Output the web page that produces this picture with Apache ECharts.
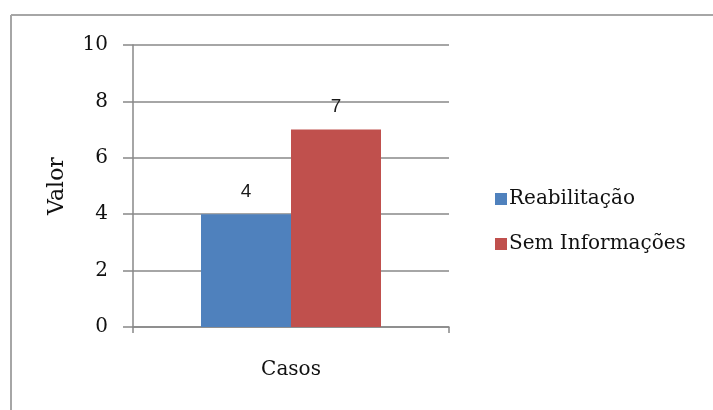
<!DOCTYPE html>
<html>
<head>
<meta charset="utf-8">
<script src="https://cdn.jsdelivr.net/npm/echarts@6/dist/echarts.min.js"></script>
<style>
  html, body { margin: 0; padding: 0; background: #fff; }
  #chart { width: 713px; height: 410px; }
</style>
</head>
<body>
<div id="chart"></div>
<script>
// Chart data
const categories = ['Casos'];
const seriesNames = ['Reabilitação', 'Sem Informações'];
const reabilitacao = [4];
const semInformacoes = [7];
const yTicks = { min: 0, max: 10, interval: 2 };

const serif = '"DejaVu Serif", "Liberation Serif", serif';
const sans = '"Liberation Sans", Arial, sans-serif';
const gridColor = '#888888';

const chart = echarts.init(document.getElementById('chart'), null, { renderer: 'canvas' });

const labelStyle = {
  show: true,
  position: 'top',
  distance: 13,
  fontFamily: sans,
  fontSize: 19,
  color: '#1a1a1a'
};

chart.setOption({
  animation: false,
  backgroundColor: '#fff',
  graphic: [
    // outer frame: top and left edges
    { type: 'line', shape: { x1: 11, y1: 15, x2: 713, y2: 15 }, style: { stroke: '#a6a6a6', lineWidth: 2 } },
    { type: 'line', shape: { x1: 11, y1: 15, x2: 11, y2: 410 }, style: { stroke: '#a6a6a6', lineWidth: 2 } }
  ],
  grid: { left: 133, right: 264, top: 45, bottom: 83 },
  legend: {
    orient: 'vertical',
    left: 490,
    top: 184,
    itemWidth: 12,
    itemHeight: 12,
    itemGap: 25,
    icon: 'rect',
    textStyle: { fontFamily: serif, fontSize: 20, color: '#111', padding: [0, 0, 0, -3] },
    data: seriesNames
  },
  xAxis: {
    type: 'category',
    data: categories,
    axisLine: { lineStyle: { color: gridColor, width: 1.5 } },
    axisTick: { show: true, length: 6, lineStyle: { color: gridColor, width: 1.5 } },
    axisLabel: { margin: 33, fontFamily: serif, fontSize: 20, color: '#111' }
  },
  yAxis: {
    type: 'value',
    min: yTicks.min,
    max: yTicks.max,
    interval: yTicks.interval,
    name: 'Valor',
    nameLocation: 'middle',
    nameGap: 65,
    nameRotate: 90,
    nameTextStyle: { fontFamily: serif, fontSize: 22, color: '#111' },
    axisLine: { show: true, lineStyle: { color: gridColor, width: 1.5 } },
    axisTick: { show: true, length: 10, lineStyle: { color: gridColor, width: 1.5 } },
    axisLabel: { margin: 25, fontFamily: serif, fontSize: 20, color: '#111' },
    splitLine: { show: true, lineStyle: { color: gridColor, width: 1.5 } }
  },
  series: [
    {
      name: seriesNames[0],
      type: 'bar',
      data: reabilitacao,
      barWidth: 90,
      barGap: '0%',
      itemStyle: { color: '#4f81bd' },
      label: labelStyle
    },
    {
      name: seriesNames[1],
      type: 'bar',
      data: semInformacoes,
      barWidth: 90,
      barGap: '0%',
      itemStyle: { color: '#c0504d' },
      label: labelStyle
    }
  ]
});
</script>
</body>
</html>
